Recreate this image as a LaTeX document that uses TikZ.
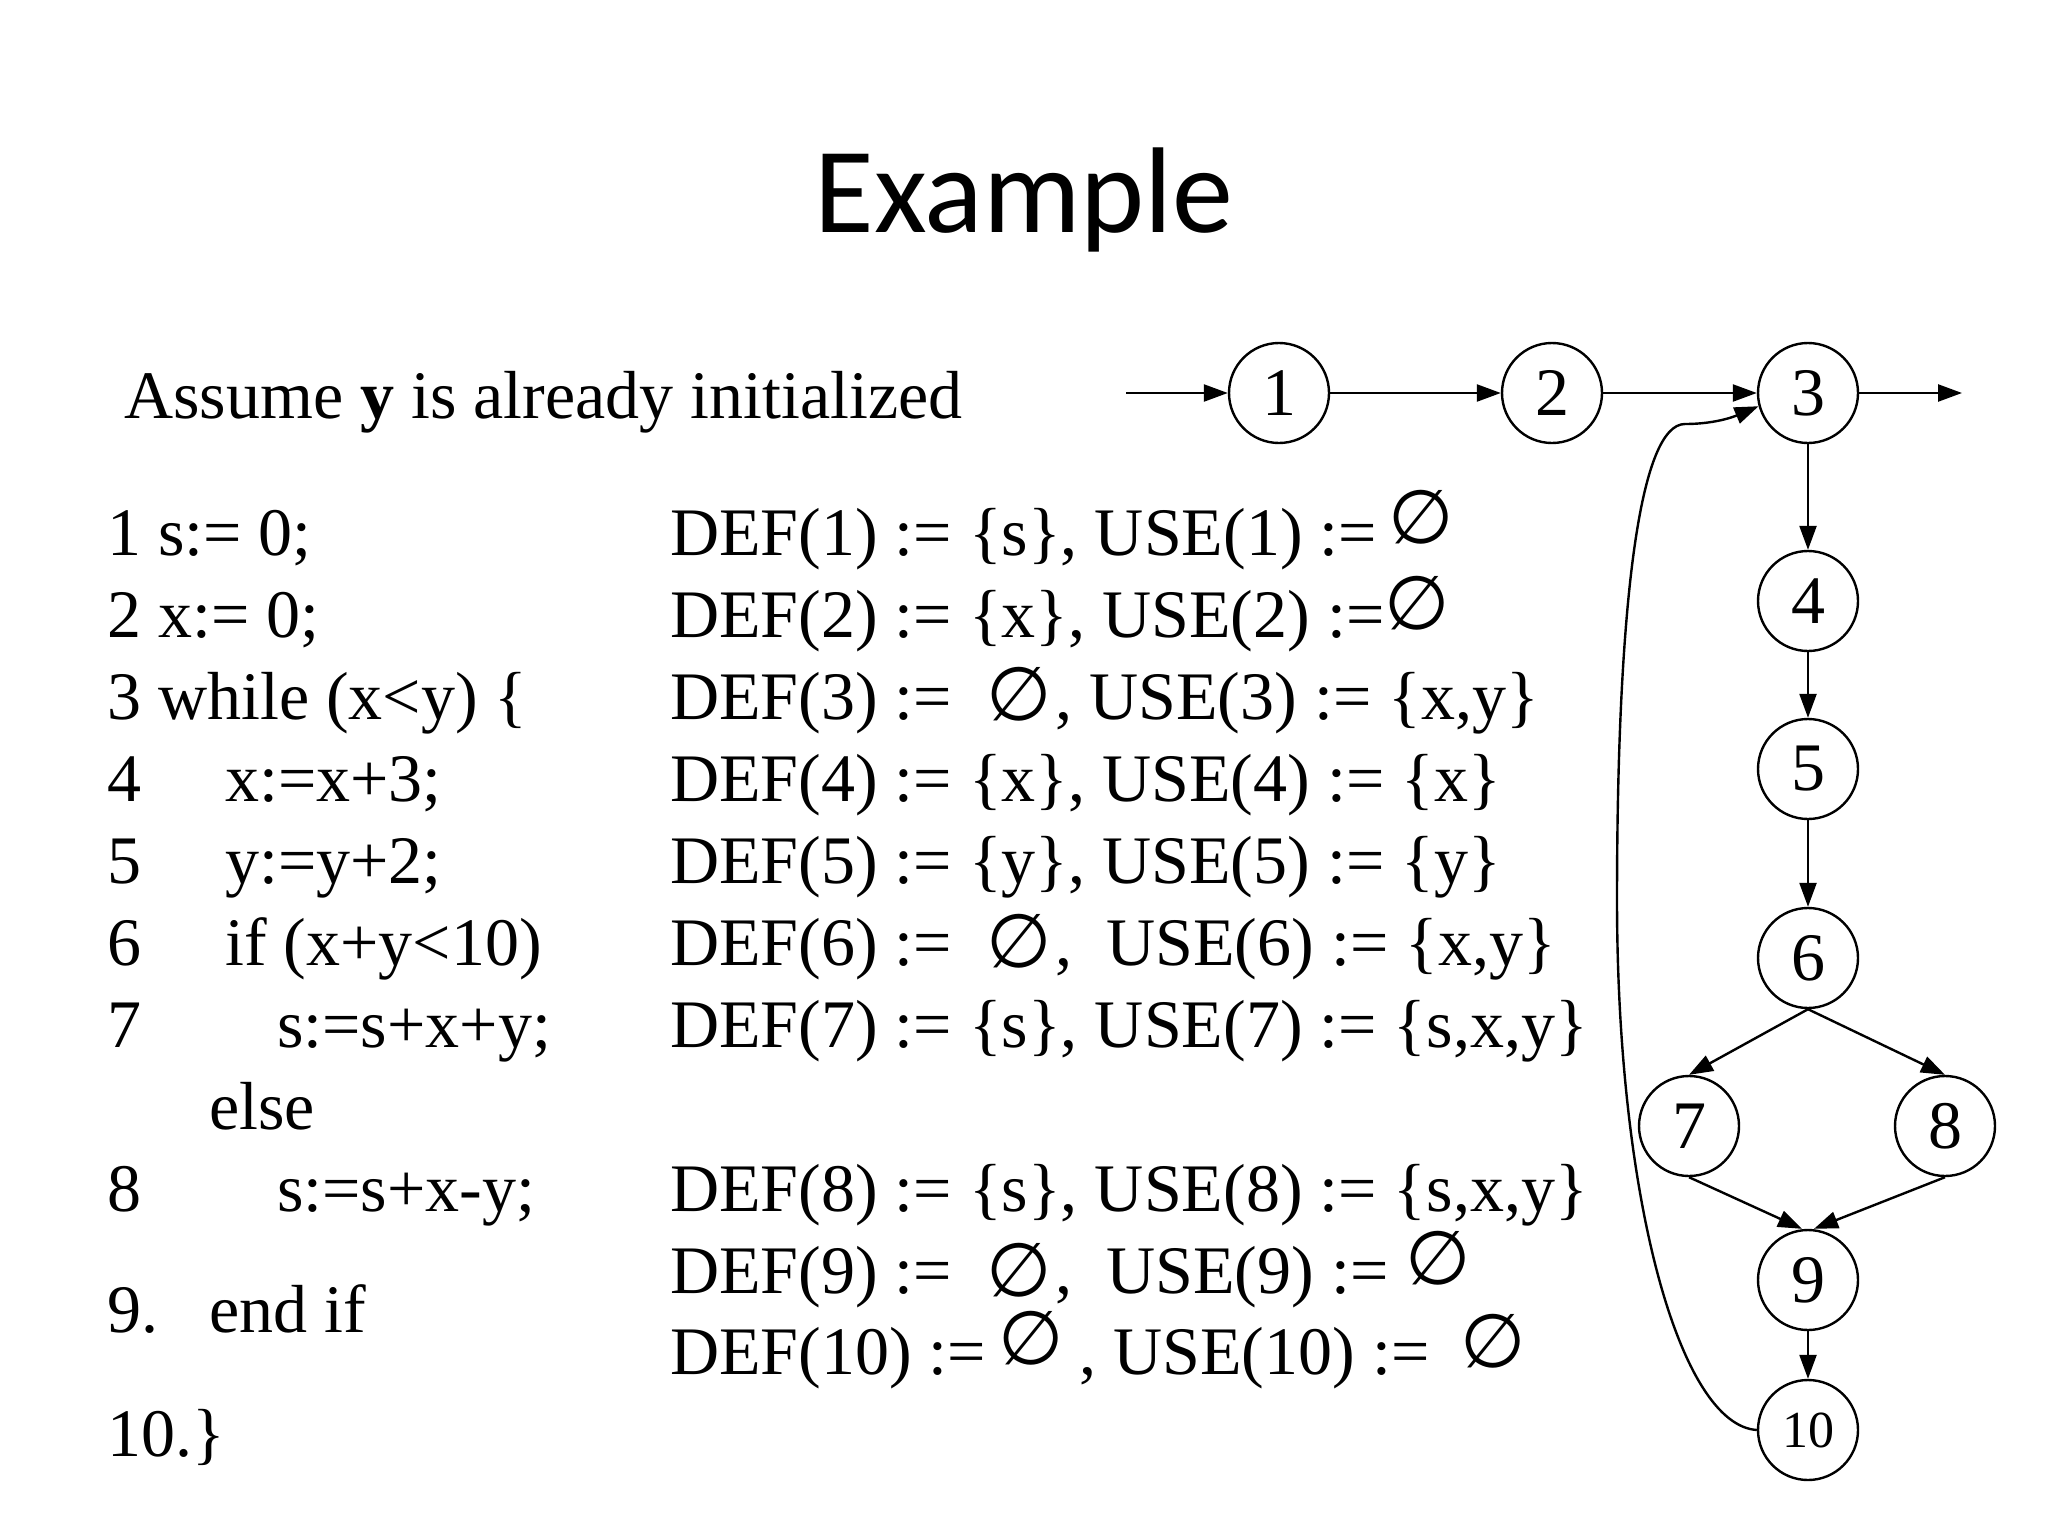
\documentclass[tikz,border=0pt]{standalone}
\usepackage{fontspec}
\setmainfont{Liberation Serif}
\newfontfamily\titlefont{Carlito}
\newfontfamily\esfont{DejaVu Sans}
\usetikzlibrary{arrows.meta}
\newcommand{\es}{{\esfont\fontsize{75}{80}\selectfont ∅}}
\newcommand{\res}[1]{\raisebox{#1}{\es}}
\tikzset{
  txt/.style={anchor=base west, inner sep=0pt, font=\fontsize{68}{80}\selectfont},
  vert/.style={circle, draw, line width=2.4pt, minimum size=100pt, inner sep=0pt, font=\fontsize{68}{80}\selectfont},
  edge/.style={-{Triangle[length=24pt,width=17pt]}, line width=2.4pt},
}
\begin{document}
\begin{tikzpicture}[x=1pt,y=-1pt]
\useasboundingbox[fill=white] (0,0) rectangle (2048,1536);
% title
\node[anchor=base, inner sep=0pt, font=\titlefont\fontsize{122}{140}\selectfont] (title) at (1024,232) {Example};
\node[txt] (assume) at (124,418) {Assume \textbf{y} is already initialized};
% code
\node[txt] (c1) at (107,555) {1 s:= 0;};
\node[txt] (c2) at (107,637) {2 x:= 0;};
\node[txt] (c3) at (107,719) {3 while (x<y) \{};
\node[txt] (c4n) at (107,801) {4};
\node[txt] (c4) at (225,801) {x:=x+3;};
\node[txt] (c5n) at (107,883) {5};
\node[txt] (c5) at (225,883) {y:=y+2;};
\node[txt] (c6n) at (107,965) {6};
\node[txt] (c6) at (225,965) {if (x+y<10)};
\node[txt] (c7n) at (107,1047) {7};
\node[txt] (c7) at (277,1047) {s:=s+x+y;};
\node[txt] (celse) at (209,1129) {else};
\node[txt] (c8n) at (107,1211) {8};
\node[txt] (c8) at (277,1211) {s:=s+x-y;};
\node[txt] (c9n) at (107,1332) {9.};
\node[txt] (c9) at (209,1332) {end if};
\node[txt] (c10) at (107,1456) {10.\}};
% def/use
\node[txt] (d1) at (670,555) {DEF(1) := \{s\}, USE(1) :=\,\res{12pt}};
\node[txt] (d2) at (670,637) {DEF(2) := \{x\}, USE(2) :=\res{8pt}};
\node[txt] (d3) at (670,719) {DEF(3) := \ \res{-1pt}\hspace{4pt}, USE(3) := \{x,y\}};
\node[txt] (d4) at (670,801) {DEF(4) := \{x\}, USE(4) := \{x\}};
\node[txt] (d5) at (670,883) {DEF(5) := \{y\}, USE(5) := \{y\}};
\node[txt] (d6) at (670,965) {DEF(6) := \ \res{-2pt}\hspace{4pt}, \ USE(6) := \{x,y\}};
\node[txt] (d7) at (670,1047) {DEF(7) := \{s\}, USE(7) := \{s,x,y\}};
\node[txt] (d8) at (670,1211) {DEF(8) := \{s\}, USE(8) := \{s,x,y\}};
\node[txt] (d9) at (670,1293) {DEF(9) := \ \res{-3pt}\hspace{4pt}, \ USE(9) := \res{9pt}};
\node[txt] (d10) at (670,1374) {DEF(10) :=\hspace{12pt}\res{10pt}\hspace{16pt}, USE(10) := \hspace{14pt}\res{7pt}};
% graph
\node[vert] (n1) at (1279,393) {1};
\node[vert] (n2) at (1552,393) {2};
\node[vert] (n3) at (1808,393) {3};
\node[vert] (n4) at (1808,601) {4};
\node[vert] (n5) at (1808,769) {5};
\node[vert] (n6) at (1808,958) {6};
\node[vert] (n7) at (1689,1126) {7};
\node[vert] (n8) at (1945,1126) {8};
\node[vert] (n9) at (1808,1280) {9};
\node[vert, font=\fontsize{52}{60}\selectfont] (n10) at (1808,1430) {10};
\coordinate (in) at (1126,393);
\coordinate (out) at (1962,393);
\coordinate (b1) at (1617,900);
\coordinate (b2) at (1685,424);
\draw[edge] (in) -- (n1);
\draw[edge] (n1) -- (n2);
\draw[edge] (n2) -- (n3);
\draw[edge] (n3) -- (out);
\draw[edge] (n3) -- (n4);
\draw[edge] (n4) -- (n5);
\draw[edge] (n5) -- (n6);
\draw[edge] (n6.south) -- (n7.north);
\draw[edge] (n6.south) -- (n8.north);
\draw[edge] (n7.south) -- ([xshift=-6pt]n9.north);
\draw[edge] (n8.south) -- ([xshift=6pt]n9.north);
\draw[edge] (n9) -- (n10);
\draw[edge] (n10.west) .. controls (1680,1425) and (1617,1200) .. (b1)
   .. controls (1617,600) and (1640,424) .. (b2)
   .. controls (1720,424) and (1740,414) .. (n3.195);
\end{tikzpicture}
\end{document}
